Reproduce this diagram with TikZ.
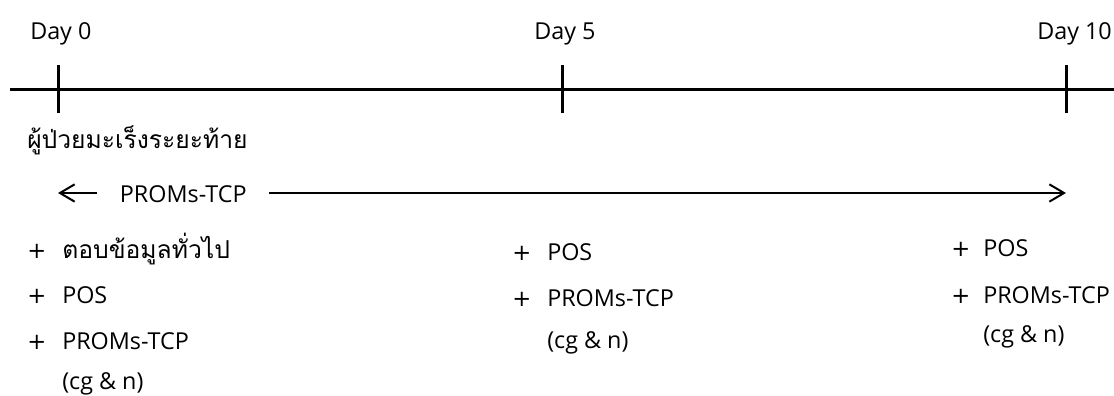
\documentclass[tikz,border=0pt]{standalone}
\usepackage{fontspec}
\setmainfont{Open Sans}
\newfontfamily\thaifont[Script=Thai]{Loma}
\newfontfamily\signfont{DejaVu Sans}
\usetikzlibrary{arrows.meta}
\begin{document}
\begin{tikzpicture}[x=0.75pt,y=-0.75pt,
  txt/.style={inner sep=0pt, anchor=base west, font=\fontsize{17.5pt}{21pt}\selectfont},
  thai/.style={txt, font=\fontsize{18.5pt}{22pt}\thaifont},
  plus/.style={inner sep=0pt, anchor=base west, font=\fontsize{17pt}{21pt}\signfont},
  axis/.style={line width=2.25pt},
  span/.style={line width=1.5pt, -{Straight Barb[length=11pt,width=13pt]}}
]
\useasboundingbox (0,0) rectangle (1114,396);

% time axis with day ticks
\coordinate (axisL) at (10,89);
\coordinate (axisR) at (1114,89);
\draw[axis] (axisL) -- (axisR);
\foreach \n/\x in {d0/58, d5/562, d10/1066} {
  \coordinate (\n top) at (\x,65);
  \coordinate (\n bot) at (\x,113);
  \draw[axis] (\n top) -- (\n bot);
}
\node[txt] (day0)  at (30,39)   {Day 0};
\node[txt] (day5)  at (534,39)  {Day 5};
\node[txt] (day10) at (1037,39) {Day 10};

\node[thai] (patient) at (27,148) {ผู้ป่วยมะเร็งระยะท้าย};

% follow-up span
\node[txt, inner xsep=17pt] (proms) at (97,202) {PROMs-TCP};
\coordinate (spanL) at (58,193);
\coordinate (spanR) at (1066,193);
\draw[span] (proms.west |- spanL) -- (spanL);
\draw[span] (proms.east |- spanR) -- (spanR);

% Day 0 tasks
\node[plus] (p01) at (27,258) {+};
\node[thai] (t01) at (62,258) {ตอบข้อมูลทั่วไป};
\node[plus] (p02) at (27,303) {+};
\node[txt]  (t02) at (62,303) {POS};
\node[plus] (p03) at (27,349) {+};
\node[txt]  (t03) at (62,349) {PROMs-TCP};
\node[txt]  (t04) at (62,389) {(cg \& n)};

% Day 5 tasks
\node[plus] (p51) at (512,260) {+};
\node[txt]  (t51) at (547,260) {POS};
\node[plus] (p52) at (512,306) {+};
\node[txt]  (t52) at (547,306) {PROMs-TCP};
\node[txt]  (t53) at (547,348) {(cg \& n)};

% Day 10 tasks
\node[plus] (p101) at (951,256) {+};
\node[txt]  (t101) at (983,256) {POS};
\node[plus] (p102) at (951,303) {+};
\node[txt]  (t102) at (983,303) {PROMs-TCP};
\node[txt]  (t103) at (983,342) {(cg \& n)};
\end{tikzpicture}
\end{document}
